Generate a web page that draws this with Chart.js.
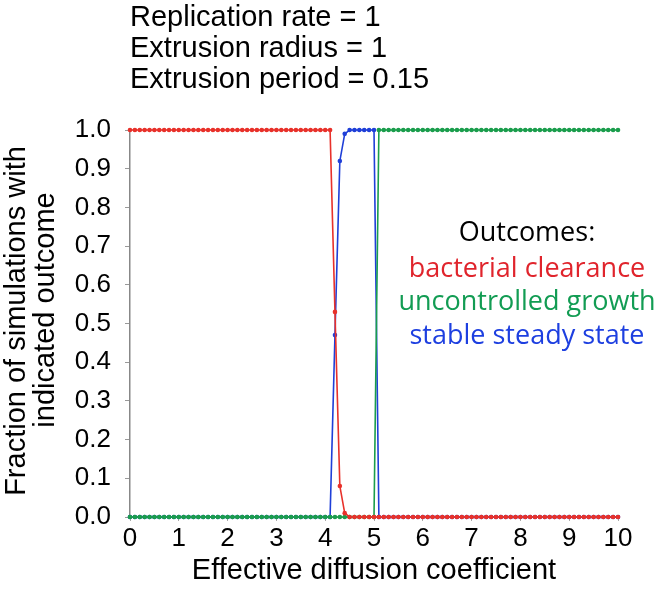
<!DOCTYPE html>
<html>
<head>
<meta charset="utf-8">
<script src="https://cdn.jsdelivr.net/npm/chart.js@4/dist/chart.umd.min.js"></script>
<style>
  html, body { margin: 0; padding: 0; background: #ffffff; }
  #wrap { width: 660px; height: 590px; }
</style>
</head>
<body>
<div id="wrap"><canvas id="c" width="660" height="590"></canvas></div>
<script>
// ---- data ----
const diffusion = [
  0, 0.1, 0.2, 0.3, 0.4, 0.5, 0.6, 0.7, 0.8, 0.9,
  1, 1.1, 1.2, 1.3, 1.4, 1.5, 1.6, 1.7, 1.8, 1.9,
  2, 2.1, 2.2, 2.3, 2.4, 2.5, 2.6, 2.7, 2.8, 2.9,
  3, 3.1, 3.2, 3.3, 3.4, 3.5, 3.6, 3.7, 3.8, 3.9,
  4, 4.1, 4.2, 4.3, 4.4, 4.5, 4.6, 4.7, 4.8, 4.9,
  5, 5.1, 5.2, 5.3, 5.4, 5.5, 5.6, 5.7, 5.8, 5.9,
  6, 6.1, 6.2, 6.3, 6.4, 6.5, 6.6, 6.7, 6.8, 6.9,
  7, 7.1, 7.2, 7.3, 7.4, 7.5, 7.6, 7.7, 7.8, 7.9,
  8, 8.1, 8.2, 8.3, 8.4, 8.5, 8.6, 8.7, 8.8, 8.9,
  9, 9.1, 9.2, 9.3, 9.4, 9.5, 9.6, 9.7, 9.8, 9.9,
  10
];
const bacterialClearance = [
  1, 1, 1, 1, 1, 1, 1, 1, 1, 1,
  1, 1, 1, 1, 1, 1, 1, 1, 1, 1,
  1, 1, 1, 1, 1, 1, 1, 1, 1, 1,
  1, 1, 1, 1, 1, 1, 1, 1, 1, 1,
  1, 1, 0.53, 0.08, 0.01, 0, 0, 0, 0, 0,
  0, 0, 0, 0, 0, 0, 0, 0, 0, 0,
  0, 0, 0, 0, 0, 0, 0, 0, 0, 0,
  0, 0, 0, 0, 0, 0, 0, 0, 0, 0,
  0, 0, 0, 0, 0, 0, 0, 0, 0, 0,
  0, 0, 0, 0, 0, 0, 0, 0, 0, 0,
  0
];
const uncontrolledGrowth = [
  0, 0, 0, 0, 0, 0, 0, 0, 0, 0,
  0, 0, 0, 0, 0, 0, 0, 0, 0, 0,
  0, 0, 0, 0, 0, 0, 0, 0, 0, 0,
  0, 0, 0, 0, 0, 0, 0, 0, 0, 0,
  0, 0, 0, 0, 0, 0, 0, 0, 0, 0,
  0, 1, 1, 1, 1, 1, 1, 1, 1, 1,
  1, 1, 1, 1, 1, 1, 1, 1, 1, 1,
  1, 1, 1, 1, 1, 1, 1, 1, 1, 1,
  1, 1, 1, 1, 1, 1, 1, 1, 1, 1,
  1, 1, 1, 1, 1, 1, 1, 1, 1, 1,
  1
];
const stableSteadyState = [
  0, 0, 0, 0, 0, 0, 0, 0, 0, 0,
  0, 0, 0, 0, 0, 0, 0, 0, 0, 0,
  0, 0, 0, 0, 0, 0, 0, 0, 0, 0,
  0, 0, 0, 0, 0, 0, 0, 0, 0, 0,
  0, 0, 0.47, 0.92, 0.99, 1, 1, 1, 1, 1,
  1, 0, 0, 0, 0, 0, 0, 0, 0, 0,
  0, 0, 0, 0, 0, 0, 0, 0, 0, 0,
  0, 0, 0, 0, 0, 0, 0, 0, 0, 0,
  0, 0, 0, 0, 0, 0, 0, 0, 0, 0,
  0, 0, 0, 0, 0, 0, 0, 0, 0, 0,
  0
];
const seriesNames = ["bacterial clearance", "uncontrolled growth", "stable steady state"];
const paramLines = ["Replication rate = 1", "Extrusion radius = 1", "Extrusion period = 0.15"];
const legendTitle = "Outcomes:";
const xTitle = "Effective diffusion coefficient";
const yTitleLines = ["Fraction of simulations with", "indicated outcome"];

// ---- styling ----
const RED = "#e8312a", GREEN = "#1a9d4c", BLUE = "#1f3fd8";
const RED_T = "#e0242c", GREEN_T = "#129c53", BLUE_T = "#1d3fe0";
const SANS = "'Liberation Sans', Arial, sans-serif";

function pts(ys) { return ys.map((y, i) => ({ x: diffusion[i], y: y })); }
function ds(label, ys, color) {
  return {
    label: label, data: pts(ys),
    borderColor: color, backgroundColor: color,
    borderWidth: 1.6, pointRadius: 2.3, pointBorderWidth: 0,
    pointBackgroundColor: color, tension: 0, clip: false
  };
}

const textPlugin = {
  id: "texts",
  afterDraw(chart) {
    const ctx = chart.ctx;
    ctx.save();
    // parameter lines at top
    ctx.fillStyle = "#000";
    ctx.font = "29px " + SANS;
    ctx.textAlign = "left";
    ctx.textBaseline = "middle";
    const py = [18, 49, 80];
    paramLines.forEach((t, i) => ctx.fillText(t, 130, py[i]));
    // y-axis title (two rotated lines)
    ctx.font = "29px " + SANS;
    ctx.textAlign = "center";
    const yc = [[17, 321], [46, 310]];
    yTitleLines.forEach((t, i) => {
      ctx.save();
      ctx.translate(yc[i][0], yc[i][1]);
      ctx.rotate(-Math.PI / 2);
      ctx.fillText(t, 0, 0);
      ctx.restore();
    });
    // outcome legend text
    ctx.font = "27px 'Open Sans', 'Noto Sans', sans-serif";
    ctx.textAlign = "center";
    const lx = 527;
    ctx.fillStyle = "#000"; ctx.fillText(legendTitle, lx, 233);
    ctx.fillStyle = RED_T; ctx.fillText(seriesNames[0], lx, 269);
    ctx.fillStyle = GREEN_T; ctx.fillText(seriesNames[1], lx, 302);
    ctx.fillStyle = BLUE_T; ctx.fillText(seriesNames[2], lx, 336);
    ctx.restore();
  }
};

new Chart(document.getElementById("c"), {
  type: "line",
  data: {
    datasets: [
      ds(seriesNames[0], bacterialClearance, RED),
      ds(seriesNames[1], uncontrolledGrowth, GREEN),
      ds(seriesNames[2], stableSteadyState, BLUE)
    ]
  },
  options: {
    responsive: false,
    animation: false,
    devicePixelRatio: 1,
    layout: { padding: { top: 130, right: 42, bottom: 0, left: 0 } },
    plugins: { legend: { display: false }, tooltip: { enabled: false } },
    scales: {
      x: {
        type: "linear", min: 0, max: 10,
        afterFit: (s) => { s.height = 73; },
        ticks: { stepSize: 1, color: "#000", font: { family: SANS, size: 26 }, padding: 2, maxRotation: 0 },
        grid: { drawOnChartArea: false, drawTicks: true, tickLength: 4, color: "#aaa" },
        border: { display: true, color: "#999", width: 1 },
        title: { display: true, text: xTitle, color: "#000", font: { family: SANS, size: 29, lineHeight: 1.2 }, padding: { top: 0, bottom: 2 } }
      },
      y: {
        type: "linear", min: 0, max: 1,
        afterFit: (s) => { s.width = 130; },
        ticks: { stepSize: 0.1, color: "#000", font: { family: SANS, size: 26 }, padding: 14,
                 callback: (v) => Number(v).toFixed(1) },
        grid: { drawOnChartArea: false, drawTicks: true, tickLength: 5, color: "#999" },
        border: { display: true, color: "#888", width: 1.5 },
        title: { display: false }
      }
    }
  },
  plugins: [textPlugin]
});
</script>
</body>
</html>
